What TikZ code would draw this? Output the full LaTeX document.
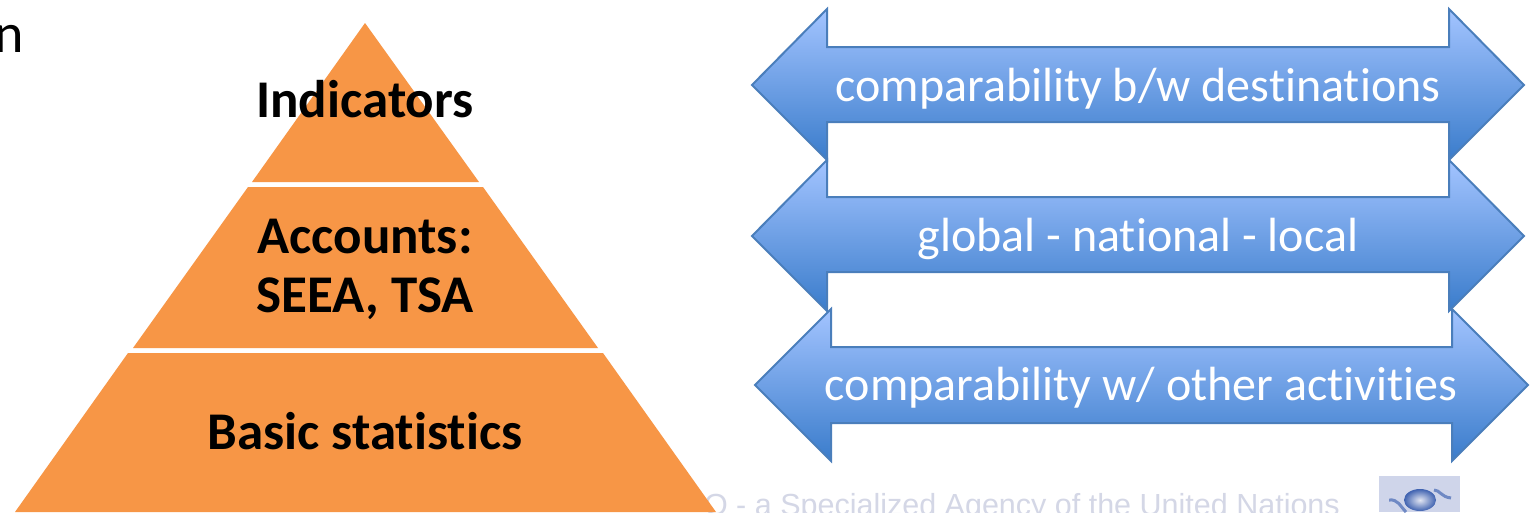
\documentclass[tikz,border=0pt]{standalone}
\usepackage{fontspec}
\setmainfont{Carlito}[Ligatures=NoCommon]
\newfontfamily\footerfont{Liberation Sans}
\definecolor{pyr}{HTML}{F79646}
\definecolor{arrowline}{HTML}{4A7EBB}
\definecolor{arrowtop}{HTML}{A3C4FF}
\definecolor{arrowbot}{HTML}{3A7CCB}
\definecolor{footgrey}{HTML}{D4D7E6}
\definecolor{logobg}{HTML}{CFD5EA}
\definecolor{logoblue}{HTML}{3F62B0}
\tikzset{
  pyrtext/.style={font=\fontsize{53}{59}\selectfont\bfseries, align=center, text=black, inner sep=0pt},
  arrowtext/.style={font=\fontsize{48}{56}\selectfont, text=white, inner sep=0pt},
  bigarrow/.style={draw=arrowline, line width=2pt, line join=miter, top color=arrowtop, bottom color=arrowbot},
  layer/.style={fill=pyr, draw=none},
  footer/.style={font=\footerfont\fontsize{30.5}{36}\selectfont, text=footgrey, inner sep=0pt, anchor=base east}
}
\begin{document}
\begin{tikzpicture}[x=1pt,y=-1pt]
\useasboundingbox (0,0) rectangle (1532,512);
\clip (0,0) rectangle (1532,512);
\fill[white] (0,0) rectangle (1532,512);
% footer behind the pyramid
\node[footer] (foot) at (1340,515) {O - a Specialized Agency of the United Nations};
\fill[logobg] (1379,476) rectangle (1460,512);
\draw[logoblue!75, line width=3pt] (1389,500) .. controls (1398,499) and (1400,506) .. (1406,512);
\draw[logoblue!75, line width=3pt] (1434,490) .. controls (1440,490) and (1441,497) .. (1451,498);
\shade[inner color=logobg!60, outer color=logoblue] (1420,500) ellipse (16 and 11);
% pyramid
\fill[layer] (365,23) -- (479,182) -- (252,182) -- cycle;
\fill[layer] (248,187) -- (483,187) -- (598,348) -- (133,348) -- cycle;
\fill[layer] (128,353) -- (603,353) -- (716,512) -- (15,512) -- cycle;
\node[pyrtext] (ind) at (365,99) {Indicators};
\node[pyrtext] (acc) at (365,269) {Accounts:\\SEEA, TSA};
\node[pyrtext] (bas) at (365,431) {Basic statistics};
% arrows
\draw[bigarrow] (752,85) -- (827,9) -- (827,47) -- (1449,47) -- (1449,9) -- (1524,85) -- (1449,160) -- (1449,122) -- (827,122) -- (827,160) -- cycle;
\draw[bigarrow] (752,236) -- (827,160) -- (827,197) -- (1449,197) -- (1449,160) -- (1524,236) -- (1449,311) -- (1449,272) -- (827,272) -- (827,311) -- cycle;
\draw[bigarrow] (755,385) -- (831,309) -- (831,347) -- (1452,347) -- (1452,309) -- (1528,385) -- (1452,461) -- (1452,423) -- (831,423) -- (831,461) -- cycle;
\node[arrowtext] (a1) at (1138,88.5) {comparability b/w destinations};
\node[arrowtext] (a2) at (1138,239) {global - national - local};
\node[arrowtext] (a3) at (1141,388) {comparability w/ other activities};
% clipped word end at top left
\node[anchor=base east, font=\fontsize{56}{60}\selectfont, inner sep=0pt] (n) at (24,52) {n};
\end{tikzpicture}
\end{document}
